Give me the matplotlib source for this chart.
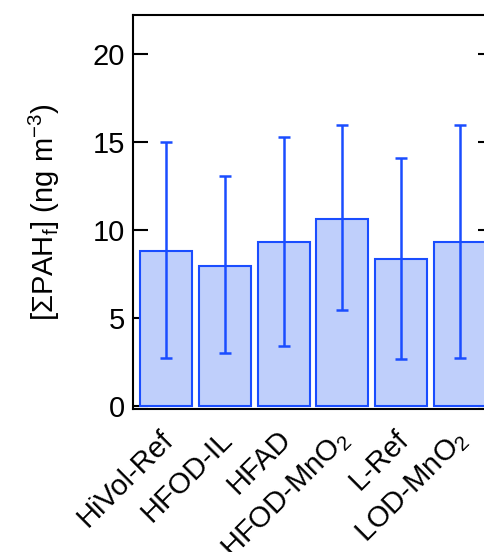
import matplotlib
matplotlib.use("Agg")
import matplotlib.pyplot as plt
import matplotlib.transforms as mtransforms
import numpy as np

plt.rcParams["font.family"] = ["Liberation Sans", "DejaVu Sans"]
plt.rcParams["mathtext.fontset"] = "custom"
plt.rcParams["mathtext.rm"] = "Liberation Sans"
plt.rcParams["mathtext.it"] = "Liberation Sans"
plt.rcParams["mathtext.bf"] = "Liberation Sans:bold"

LABELS = ["HiVol-Ref", "HFOD-IL", "HFAD", r"HFOD-MnO$_2$", "L-Ref", r"LOD-MnO$_2$"]
MEANS = [8.83, 7.95, 9.32, 10.64, 8.36, 9.30]
UPPER = [15.0, 13.05, 15.27, 15.94, 14.11, 15.94]
LOWER = [2.77, 3.04, 3.44, 5.46, 2.70, 2.76]

EDGE = "#1a4dff"
FILL = "#bfcffb"
FS = 21

fig = plt.figure(figsize=(4.84, 5.52), dpi=100)
# axes: left spine 133px, right spine ~493px, top 15px, bottom 409px
ax = fig.add_axes([133 / 484, 1 - 409 / 552, 360 / 484, 394 / 552])

x = np.arange(len(MEANS))
means = np.array(MEANS)
yerr = np.array([means - np.array(LOWER), np.array(UPPER) - means])

ax.bar(x, means, width=0.885, color=FILL, edgecolor=EDGE, linewidth=1.5, zorder=2)
ax.errorbar(x, means, yerr=yerr, fmt="none", ecolor=EDGE, elinewidth=1.8,
            capsize=4.5, capthick=1.8, zorder=3)

ax.set_xlim(-0.56, 5.56)
ax.set_ylim(-0.15, 22.2)
ax.set_yticks([0, 5, 10, 15, 20])
ax.tick_params(axis="y", direction="in", length=11, width=1.5, labelsize=FS,
               right=True, pad=6)
ax.tick_params(axis="x", length=0, labelsize=FS, pad=8)
ax.set_xticks(x)
ax.set_xticklabels(LABELS, rotation=45, ha="right", rotation_mode="anchor")
offset = mtransforms.ScaledTranslation(-7 / 100, -5 / 100, fig.dpi_scale_trans)
for lab in ax.get_xticklabels():
    lab.set_transform(lab.get_transform() + offset)
for s in ax.spines.values():
    s.set_linewidth(1.5)

ax.set_ylabel(r"[ΣPAH$_\mathrm{f}$] (ng m$^{-3}$)", fontsize=FS, labelpad=22)

fig.savefig("out.png", dpi=100)
